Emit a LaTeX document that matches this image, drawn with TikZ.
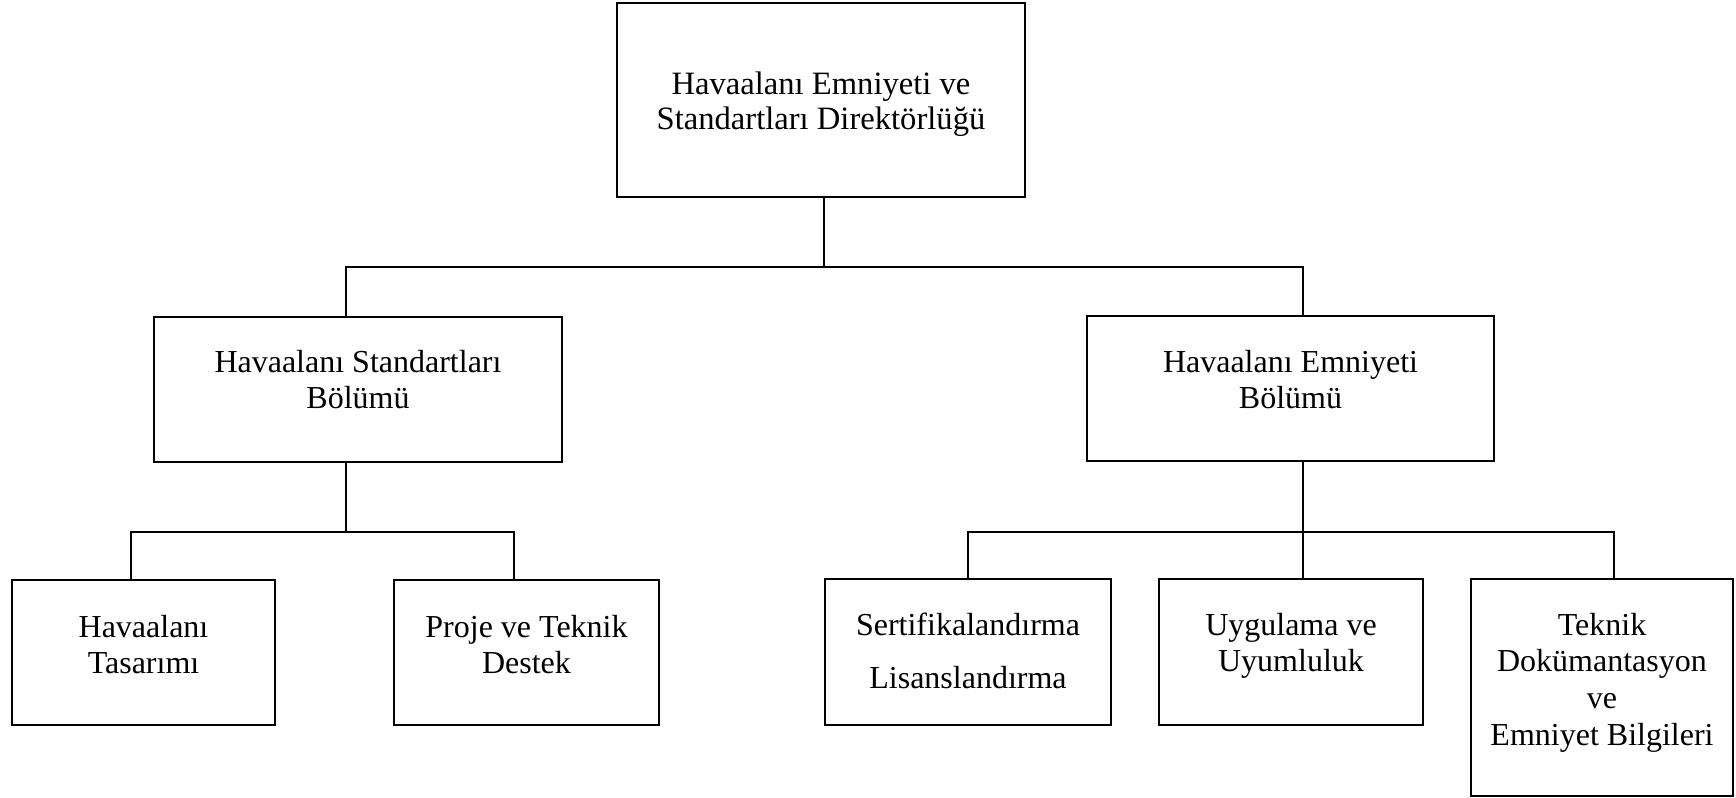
\documentclass[tikz,border=0pt]{standalone}
\usepackage{fontspec}
\setmainfont{Liberation Serif}
\tikzset{
  box/.style={draw, line width=1.1pt, inner sep=0pt, outer sep=0pt, rectangle},
  txt/.style={anchor=base, inner sep=0pt, font=\fontsize{16}{18.4}\selectfont},
  conn/.style={line width=0.9pt},
}
\newcommand{\lines}[1]{\begin{tabular}[t]{@{}c@{}}#1\end{tabular}}
\begin{document}
\begin{tikzpicture}[x=0.5pt,y=-0.5pt]
\useasboundingbox (0,0) rectangle (1736,798);
% boxes
\node[box, minimum width=204pt, minimum height=97pt] (b0) at (821,100) {};
\node[box, minimum width=204pt, minimum height=72.5pt] (b1) at (358,389.5) {};
\node[box, minimum width=203.5pt, minimum height=72.5pt] (b2) at (1290.5,388.5) {};
\node[box, minimum width=131.5pt, minimum height=72.5pt] (b3) at (143.5,652.5) {};
\node[box, minimum width=132.5pt, minimum height=72.5pt] (b4) at (526.5,652.5) {};
\node[box, minimum width=143pt, minimum height=73pt] (b5) at (968,652) {};
\node[box, minimum width=132pt, minimum height=73pt] (b6) at (1291,652) {};
\node[box, minimum width=131pt, minimum height=108.5pt] (b7) at (1602,687.5) {};
% texts
\node[txt, font=\fontsize{16.3}{17.5}\selectfont] (t0) at (821,94) {\lines{Havaalanı Emniyeti ve\\Standartları Direktörlüğü}};
\node[txt] (t1) at (358,372) {\lines{Havaalanı Standartları\\Bölümü}};
\node[txt] (t2) at (1290.5,372) {\lines{Havaalanı Emniyeti\\Bölümü}};
\node[txt] (t3) at (143.5,637) {\lines{Havaalanı\\Tasarımı}};
\node[txt] (t4) at (526.5,637) {\lines{Proje ve Teknik\\Destek}};
\node[txt] (t5) at (968,635) {\lines{Sertifikalandırma\\[8.1pt]Lisanslandırma}};
\node[txt] (t6) at (1291,635) {\lines{Uygulama ve\\Uyumluluk}};
\node[txt] (t7) at (1602,635) {\lines{Teknik\\Dokümantasyon\\ve\\Emniyet Bilgileri}};
% junctions
\coordinate (j0) at (824,267);
\coordinate (jL) at (346,267);
\coordinate (jR) at (1303,267);
\coordinate (kL) at (346,532);
\coordinate (kL1) at (131,532);
\coordinate (kL2) at (514,532);
\coordinate (kR) at (1303,532);
\coordinate (kR1) at (968,532);
\coordinate (kR2) at (1614,532);
% connectors
\draw[conn] (b0.south -| j0) -- (j0);
\draw[conn] (b1.north -| jL) -- (jL) -- (jR) -- (b2.north -| jR);
\draw[conn] (b1.south -| kL) -- (kL);
\draw[conn] (b3.north -| kL1) -- (kL1) -- (kL2) -- (b4.north -| kL2);
\draw[conn] (b2.south -| kR) -- (b6.north -| kR);
\draw[conn] (b5.north -| kR1) -- (kR1) -- (kR2) -- (b7.north -| kR2);
\end{tikzpicture}
\end{document}
